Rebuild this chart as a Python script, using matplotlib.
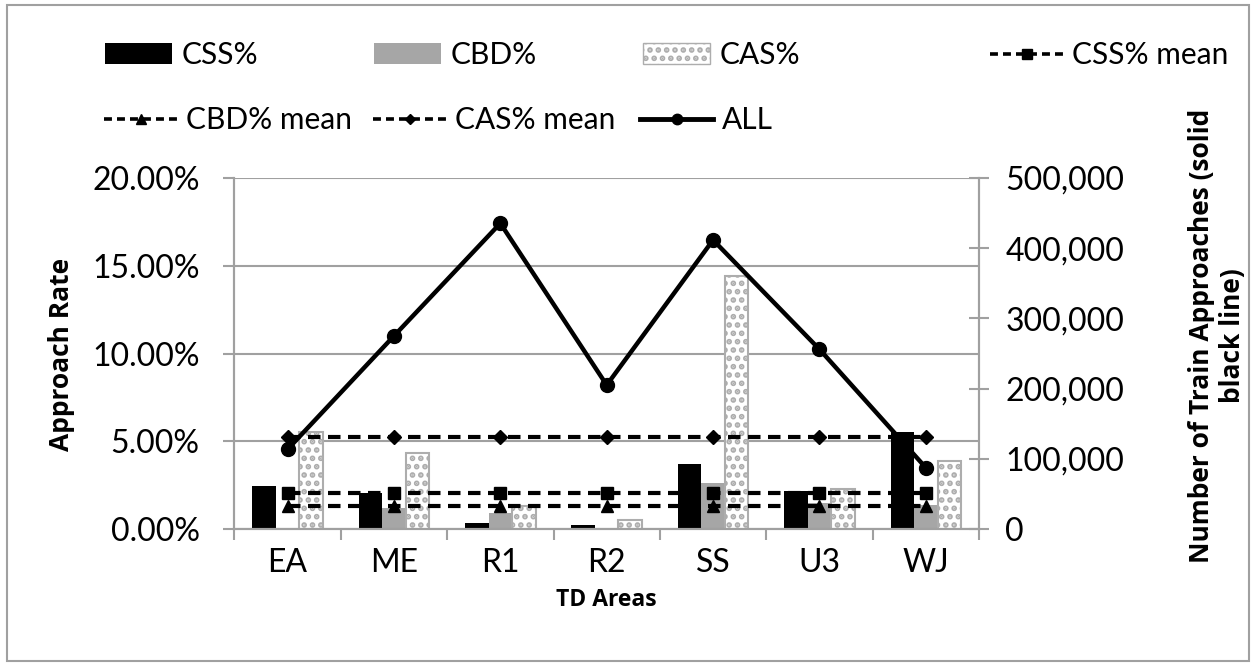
import matplotlib
matplotlib.use("Agg")
import matplotlib.pyplot as plt
import numpy as np
from matplotlib.patches import Patch, Rectangle
from matplotlib.lines import Line2D
from matplotlib.ticker import FuncFormatter, MultipleLocator

plt.rcParams['font.family'] = ['Lato', 'DejaVu Sans']
plt.rcParams['hatch.linewidth'] = 2.8

areas = ['EA', 'ME', 'R1', 'R2', 'SS', 'U3', 'WJ']
css = [2.44, 2.03, 0.32, 0.25, 3.71, 2.16, 5.53]
cbd = [0.00, 1.18, 0.93, 0.00, 2.60, 1.50, 1.36]
cas = [5.53, 4.34, 1.31, 0.53, 14.43, 2.26, 3.88]
css_mean = 2.03
cbd_mean = 1.33
cas_mean = 5.25
all_approaches = [113500, 275000, 435500, 205000, 411700, 256000, 87300]

W, H = 1256, 668
fig = plt.figure(figsize=(W / 100, H / 100), dpi=100)
L, R, T, B = 234.4, 979, 178, 529
ax = fig.add_axes([L / W, 1 - B / H, (R - L) / W, (B - T) / H])
ax2 = ax.twinx()

grid_c = '#a0a0a0'
cas_edge = '#adadad'
x = np.arange(len(areas))
bw = 0.221
ax.bar(x - bw, np.array(css) / 100, width=bw, color='black', zorder=2)
ax.bar(x, np.array(cbd) / 100, width=bw, color='#a6a6a6', zorder=2)
ax.bar(x + bw, np.array(cas) / 100, width=bw, facecolor='white', edgecolor=cas_edge,
       hatch='..', linewidth=1.5, zorder=2)

dash = (3.0, 1.8)
ax.plot(x, [css_mean / 100] * len(x), color='black', lw=3, ls=(0, dash), marker='s', ms=9, zorder=3)
ax.plot(x, [cbd_mean / 100] * len(x), color='black', lw=3, ls=(0, dash), marker='^', ms=9, zorder=3)
ax.plot(x, [cas_mean / 100] * len(x), color='black', lw=3, ls=(0, dash), marker='D', ms=7, zorder=3)

ax2.plot(x, all_approaches, color='black', lw=3.2, marker='o', ms=10, zorder=4)

ax.set_xlim(-0.5, len(areas) - 0.5)
ax.set_ylim(0, 0.20)
ax.yaxis.set_major_locator(MultipleLocator(0.05))
ax.yaxis.set_major_formatter(FuncFormatter(lambda v, p: f'{v*100:.2f}%'))
ax2.set_ylim(0, 500000)
ax2.yaxis.set_major_locator(MultipleLocator(100000))
ax2.yaxis.set_major_formatter(FuncFormatter(lambda v, p: f'{int(round(v)):,}'))

tfs = 23
ax.set_xticks(x)
ax.set_xticklabels(areas)
ax.set_xticks(np.arange(-0.5, len(areas)), minor=True)
ax.tick_params(axis='x', which='major', length=0, pad=14, labelsize=tfs)
ax.tick_params(axis='x', which='minor', length=8, width=1.5, color=grid_c, direction='out')
ax.tick_params(axis='y', length=8, width=1.5, color=grid_c, pad=17, labelsize=tfs, direction='out')
ax2.tick_params(axis='y', length=14, width=1.5, color=grid_c, pad=12, labelsize=tfs, direction='inout')

ax.grid(axis='y', color=grid_c, lw=1.5, zorder=0)
ax.set_axisbelow(True)
for a in (ax, ax2):
    a.spines['top'].set_visible(False)
    for s in ('left', 'right', 'bottom'):
        a.spines[s].set_color(grid_c)
        a.spines[s].set_linewidth(1.5)

bold = ['Open Sans', 'DejaVu Sans']
fig.text(61.7 / W, 1 - 354 / H, 'Approach Rate', rotation=90, ha='center', va='center',
         fontsize=19, fontweight='bold', family=bold)
fig.text(1217 / W, 1 - 336 / H, 'Number of Train Approaches (solid\nblack line)', rotation=90,
         ha='center', va='center', fontsize=19, fontweight='bold', multialignment='center',
         linespacing=1.15, family=bold)
fig.text(606.7 / W, 1 - 600 / H, 'TD Areas', ha='center', va='center', fontsize=16.5,
         fontweight='bold', family=bold)

# legend entries placed individually
fs = 21.5
ldash = (0, (2.2, 1.4))
entries = [
    (Patch(facecolor='black'), 'CSS%', 105, 55, 2.25),
    (Patch(facecolor='#a6a6a6'), 'CBD%', 374, 55, 2.25),
    (Patch(facecolor='white', edgecolor=cas_edge, hatch='..', linewidth=1.0), 'CAS%', 643, 55, 2.25),
    (Line2D([], [], color='black', lw=2.6, ls=ldash, marker='s', ms=6.5), 'CSS% mean', 990, 55, 2.45),
    (Line2D([], [], color='black', lw=2.6, ls=ldash, marker='^', ms=6.5), 'CBD% mean', 104, 120, 2.45),
    (Line2D([], [], color='black', lw=2.6, ls=ldash, marker='D', ms=5.5), 'CAS% mean', 373, 120, 2.45),
    (Line2D([], [], color='black', lw=3.5, marker='o', ms=7.5), 'ALL', 640, 120, 2.45),
]
for h, lab, px, py, hl in entries:
    fig.legend(handles=[h], labels=[lab], loc='center left', bbox_to_anchor=(px / W, 1 - py / H),
               frameon=False, fontsize=fs, handlelength=hl, handleheight=0.7,
               handletextpad=0.3, borderpad=0, borderaxespad=0)

fig.patches.append(Rectangle((7 / W, 1 - 661 / H), (1249 - 7) / W, (661 - 5) / H,
                             transform=fig.transFigure, fill=False, edgecolor='#a0a0a0', lw=1.5))

fig.savefig('out.png', dpi=100)
